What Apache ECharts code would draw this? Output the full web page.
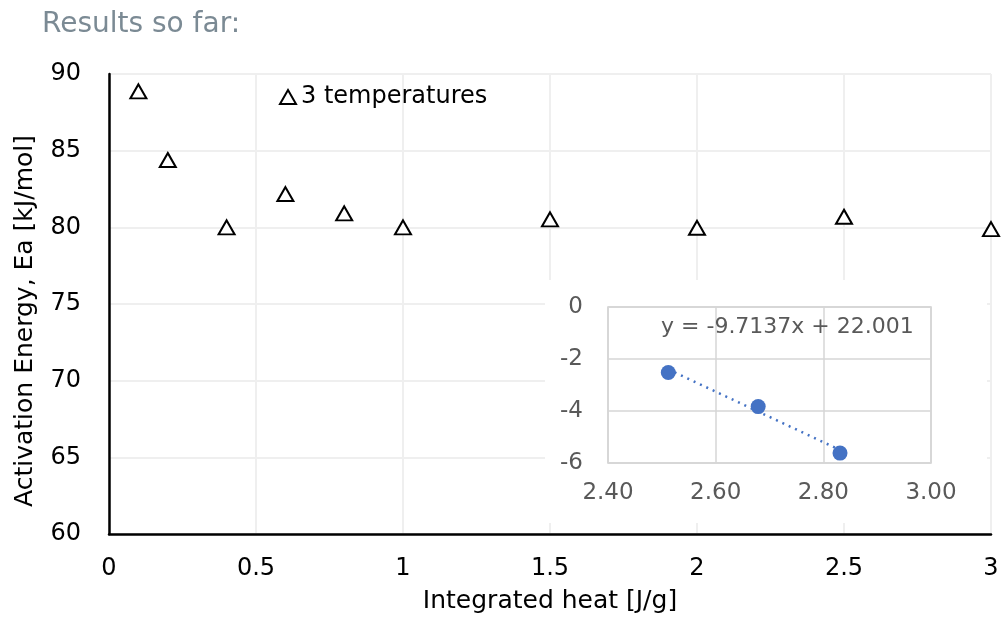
<!DOCTYPE html>
<html>
<head>
<meta charset="utf-8">
<script src="https://cdn.jsdelivr.net/npm/echarts@6/dist/echarts.min.js"></script>
<style>
html,body{margin:0;padding:0;background:#fff;}
#chart{width:1002px;height:625px;}
</style>
</head>
<body>
<div id="chart"></div>
<script>
// Main chart data
var heatX = [0.1, 0.2, 0.4, 0.6, 0.8, 1.0, 1.5, 2.0, 2.5, 3.0];
var energyY = [88.87, 84.39, 80.0, 82.17, 80.91, 80.0, 80.52, 79.97, 80.69, 79.88];
var mainXTicks = [0, 0.5, 1, 1.5, 2, 2.5, 3];
var mainYTicks = [60, 65, 70, 75, 80, 85, 90];

// Inset data
var insetX = [2.512, 2.679, 2.831];
var insetY = [-2.52, -3.83, -5.62];
var trendX = [2.512, 2.831];
var trendY = [-2.40, -5.50];
var insetXTicks = [2.40, 2.60, 2.80, 3.00];
var insetYTicks = [-6, -4, -2, 0];
var equationText = 'y = -9.7137x + 22.001';

var chart = echarts.init(document.getElementById('chart'));
var FONT = 'DejaVu Sans, Liberation Sans, Arial, sans-serif';

var option = {
  backgroundColor: '#ffffff',
  animation: false,
  title: {
    text: 'Results so far:',
    left: 42, top: 11, padding: 0,
    textStyle: {fontFamily: FONT, fontSize: 28, fontWeight: 'normal', color: '#7b8a94'}
  },
  legend: {
    left: 279, top: 85, padding: 0,
    itemWidth: 16, itemHeight: 14, itemGap: 10,
    data: [{name: '3 temperatures', icon: 'triangle'}],
    textStyle: {fontFamily: FONT, fontSize: 24, color: '#000'},
    itemStyle: {color: '#fff', borderColor: '#000', borderWidth: 2}
  },
  grid: [
    {left: 109, right: 11, top: 74, bottom: 91, containLabel: false},
    {left: 608, right: 71, top: 307, bottom: 162, show: true, borderColor: '#d0d0d0', borderWidth: 1.5, backgroundColor: '#fff', z: 3}
  ],
  graphic: [
    {type: 'rect', shape: {x: 545, y: 280, width: 442, height: 243}, style: {fill: '#fff'}, z: 1},
    {type: 'text', x: 661, y: 327, z: 10, style: {text: equationText, fontFamily: FONT, fontSize: 22, fill: '#595959', align: 'left', verticalAlign: 'middle'}},
    {type: 'text', x: 25, y: 321, rotation: Math.PI / 2, z: 10,
      style: {text: 'Activation Energy, Ea [kJ/mol]', fontFamily: FONT, fontSize: 25, fill: '#000', align: 'center', verticalAlign: 'middle'}}
  ],
  xAxis: [
    {
      gridIndex: 0, type: 'value', min: 0, max: 3, interval: 0.5,
      name: 'Integrated heat [J/g]', nameLocation: 'middle', nameGap: 55,
      nameTextStyle: {fontFamily: FONT, fontSize: 25, color: '#000'},
      axisLine: {show: true, onZero: false, lineStyle: {color: '#000', width: 2.5}},
      axisTick: {show: false},
      axisLabel: {fontFamily: FONT, fontSize: 24, color: '#000', margin: 23,
        formatter: function (v) { return mainXTicks.indexOf(v) >= 0 ? String(v) : ''; }},
      splitLine: {show: true, lineStyle: {color: '#efefef', width: 2}}
    },
    {
      gridIndex: 1, type: 'value', min: 2.4, max: 3.0, interval: 0.2, z: 3,
      axisLine: {show: false},
      axisTick: {show: false},
      axisLabel: {fontFamily: FONT, fontSize: 23, color: '#595959', margin: 19,
        formatter: function (v) { return v.toFixed(2); }},
      splitLine: {show: true, lineStyle: {color: '#d6d6d6', width: 1.5}}
    }
  ],
  yAxis: [
    {
      gridIndex: 0, type: 'value', min: 60, max: 90, interval: 5,
      axisLine: {show: true, onZero: false, lineStyle: {color: '#000', width: 2.5}},
      axisTick: {show: false},
      axisLabel: {fontFamily: FONT, fontSize: 24, color: '#000', margin: 28,
        formatter: function (v) { return mainYTicks.indexOf(v) >= 0 ? String(v) : ''; }},
      splitLine: {show: true, lineStyle: {color: '#efefef', width: 2}}
    },
    {
      gridIndex: 1, type: 'value', min: -6, max: 0, interval: 2, z: 3,
      axisLine: {show: false},
      axisTick: {show: false},
      axisLabel: {fontFamily: FONT, fontSize: 23, color: '#595959', margin: 25,
        formatter: function (v) { return insetYTicks.indexOf(v) >= 0 ? String(v) : ''; }},
      splitLine: {show: true, lineStyle: {color: '#d6d6d6', width: 1.5}}
    }
  ],
  series: [
    {
      name: '3 temperatures', type: 'scatter', xAxisIndex: 0, yAxisIndex: 0,
      symbol: 'triangle', symbolSize: [16, 14],
      itemStyle: {color: '#fff', borderColor: '#000', borderWidth: 2, opacity: 1},
      data: heatX.map(function (x, i) { return [x, energyY[i]]; }),
      z: 2
    },
    {
      name: 'trend', type: 'line', xAxisIndex: 1, yAxisIndex: 1,
      showSymbol: false, symbol: 'none',
      lineStyle: {color: '#4472C4', width: 2.5, type: [2, 5]},
      data: trendX.map(function (x, i) { return [x, trendY[i]]; }),
      z: 5
    },
    {
      name: 'inset', type: 'scatter', xAxisIndex: 1, yAxisIndex: 1,
      symbol: 'circle', symbolSize: 15,
      itemStyle: {color: '#4472C4', opacity: 1},
      data: insetX.map(function (x, i) { return [x, insetY[i]]; }),
      z: 6
    }
  ]
};
chart.setOption(option);
</script>
</body>
</html>
